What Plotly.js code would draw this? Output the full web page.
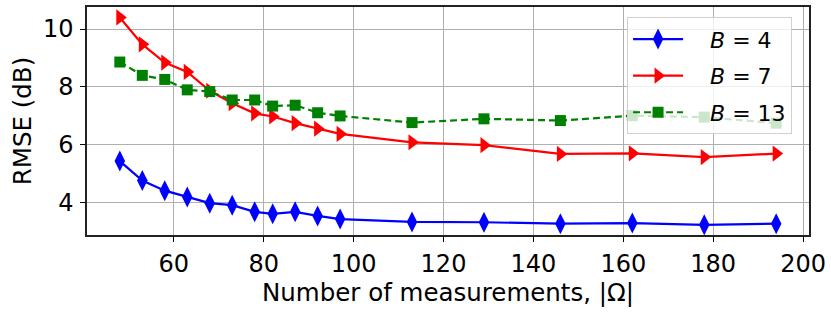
<!DOCTYPE html>
<html><head><meta charset="utf-8">
<script src="https://cdn.plot.ly/plotly-3.0.1.min.js"></script>
<style>body{margin:0;background:#fff}#c{width:831px;height:315px}</style>
</head><body><div id="c"></div>
<script>
const measurements = [48, 53, 58, 63, 68, 73, 78, 82, 87, 92, 97, 113, 129, 146, 162, 178, 194];
const rmseB4  = [5.44, 4.77, 4.42, 4.20, 3.99, 3.92, 3.69, 3.62, 3.69, 3.55, 3.44, 3.34, 3.33, 3.28, 3.30, 3.24, 3.28];
const rmseB7  = [10.40, 9.47, 8.84, 8.52, 7.87, 7.44, 7.09, 6.98, 6.75, 6.56, 6.38, 6.09, 5.99, 5.69, 5.71, 5.58, 5.70];
const rmseB13 = [8.86, 8.40, 8.26, 7.90, 7.84, 7.55, 7.55, 7.34, 7.37, 7.11, 7.00, 6.77, 6.90, 6.84, 7.01, 6.96, 6.75];
const seriesNames = ['\u2003<i>B</i> = 4', '\u2003<i>B</i> = 7', '\u2003<i>B</i> = 13'];
const xTicks = [60, 80, 100, 120, 140, 160, 180, 200];
const yTicks = [4, 6, 8, 10];

const font = 'DejaVu Sans, sans-serif';
const traces = [
  {x: measurements, y: rmseB4, name: seriesNames[0], mode: 'lines+markers', legendgroup: 'a',
   line: {color: 'blue', width: 2.2}, marker: {symbol: 'diamond-tall', size: 15, color: 'blue'}},
  {x: measurements, y: rmseB7, name: seriesNames[1], mode: 'lines+markers', legendgroup: 'b',
   line: {color: 'red', width: 2.2}, marker: {symbol: 'triangle-right', size: 14, color: 'red'}},
  {x: measurements, y: rmseB13, name: seriesNames[2], mode: 'lines+markers', legendgroup: 'c',
   line: {color: 'green', width: 2.2, dash: '7px,4px'}, marker: {symbol: 'square', size: 11, color: 'green'}}
];
const axisCommon = {
  showline: true, mirror: true, linecolor: '#222', linewidth: 1.6,
  ticks: 'outside', ticklen: 5, tickwidth: 1, tickcolor: 'black',
  showgrid: true, gridcolor: '#b0b0b0', gridwidth: 1, zeroline: false,
  tickfont: {family: font, size: 24, color: 'black'}
};
const layout = {
  width: 831, height: 315,
  margin: {l: 87, r: 22, t: 7, b: 80},
  paper_bgcolor: 'white', plot_bgcolor: 'white',
  showlegend: true,
  legend: {x: 0.748, y: 0.955, xanchor: 'left', yanchor: 'top',
    bgcolor: 'rgba(255,255,255,0.8)', bordercolor: '#d0d0d0', borderwidth: 1,
    font: {family: font, size: 22, color: 'black'}, itemwidth: 50, tracegroupgap: 5},
  xaxis: Object.assign({}, axisCommon, {range: [40.7, 201.3], tickvals: xTicks, ticklabelstandoff: 2,
    title: {text: 'Number of measurements, |Ω|', font: {family: font, size: 24.5, color: 'black'}, standoff: 0}}),
  yaxis: Object.assign({}, axisCommon, {range: [2.89, 10.76], tickvals: yTicks, ticklabelstandoff: 2,
    title: {text: 'RMSE (dB)', font: {family: font, size: 24.5, color: 'black'}, standoff: 4}})
};
Plotly.newPlot('c', traces, layout, {staticPlot: true, displayModeBar: false});
</script></body></html>
